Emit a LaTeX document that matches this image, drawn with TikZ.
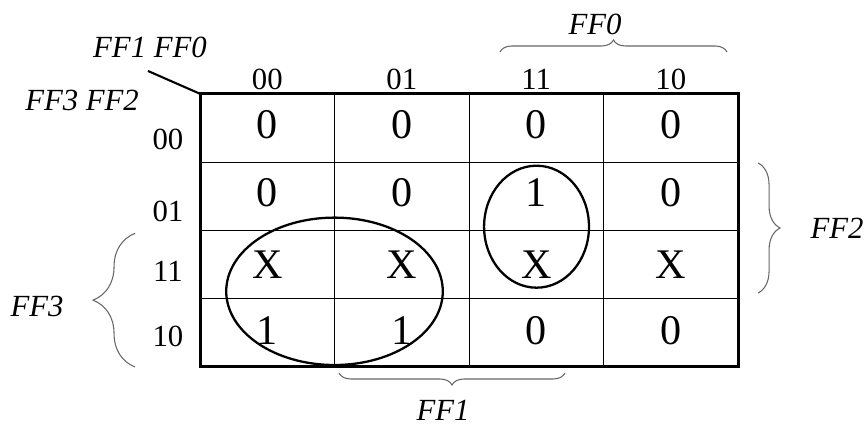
\documentclass[tikz,border=0pt]{standalone}
\usepackage{fontspec}
\setmainfont{Liberation Serif}
\usetikzlibrary{decorations.pathreplacing}
\begin{document}
\begin{tikzpicture}[x=2.69cm,y=1.366cm,
    val/.style={font=\fontsize{24}{28}\selectfont},
    hdr/.style={font=\fontsize{17.5}{20}\selectfont},
    var/.style={font=\fontsize{17.5}{20}\selectfont\itshape},
    bracebig/.style={decorate,decoration={brace,amplitude=#1},draw=black!60,line width=0.6pt},
    loop/.style={line width=1.3pt}]
        \useasboundingbox (-1.487,-0.922) rectangle (4.944,5.373);
        % inner lines
        \draw[line width=0.5pt] (1,0)--(1,4);
        \draw[line width=0.5pt] (2,0)--(2,4);
        \draw[line width=0.5pt] (3,0)--(3,4);
        \draw[line width=0.5pt] (0,1)--(4,1);
        \draw[line width=0.5pt] (0,2)--(4,2);
        \draw[line width=0.5pt] (0,3)--(4,3);
        \draw[line width=1.7pt] (0,0)--(4,0)--(4,4)--(0,4)--cycle;
        \coordinate (corner) at (0,4);
        \coordinate (slash) at (-0.387,4.334);
        \draw[line width=1.2pt] (slash)--(corner);
        \node[var] (cols) at (-0.372,4.685) {FF1 FF0};
        \node[var] (rows) at (-0.877,3.895) {FF3 FF2};
        % column and row headers
        \node[hdr] (h00) at (0.5,4.217) {00};
        \node[hdr] (h01) at (1.5,4.217) {01};
        \node[hdr] (h11) at (2.5,4.217) {11};
        \node[hdr] (h10) at (3.5,4.217) {10};
        \node[hdr] (r00) at (-0.238,3.334) {00};
        \node[hdr] (r01) at (-0.238,2.274) {01};
        \node[hdr] (r11) at (-0.238,1.395) {11};
        \node[hdr] (r10) at (-0.238,0.443) {10};
        % cell values
        \node[val] (v00) at (0.5,3.55) {0};
        \node[val] (v01) at (1.5,3.55) {0};
        \node[val] (v03) at (2.5,3.55) {0};
        \node[val] (v02) at (3.5,3.55) {0};
        \node[val] (v10) at (0.5,2.55) {0};
        \node[val] (v11) at (1.5,2.55) {0};
        \node[val] (v13) at (2.5,2.55) {1};
        \node[val] (v12) at (3.5,2.55) {0};
        \node[val] (v30) at (0.5,1.5) {X};
        \node[val] (v31) at (1.5,1.5) {X};
        \node[val] (v33) at (2.5,1.5) {X};
        \node[val] (v32) at (3.5,1.5) {X};
        \node[val] (v20) at (0.5,0.53) {1};
        \node[val] (v21) at (1.5,0.53) {1};
        \node[val] (v23) at (2.5,0.53) {0};
        \node[val] (v22) at (3.5,0.53) {0};
        % groups
        \draw[loop] (1.0,1.108) ellipse [x radius=0.805, y radius=1.079];
        \draw[loop] (2.502,2.054) ellipse [x radius=0.39, y radius=0.893];
        % braces
        \draw[bracebig=0.24cm] (2.23,4.612)--(3.918,4.612);
        \node[var] (ff0) at (2.937,5.022) {FF0};
        \draw[bracebig=0.44cm] (4.149,2.987)--(4.149,1.083);
        \node[var] (ff2) at (4.736,2.035) {FF2};
        \draw[bracebig=0.84cm] (-0.483,0)--(-0.483,1.957);
        \node[var] (ff3) at (-1.212,0.893) {FF3};
        \draw[bracebig=0.24cm] (2.714,-0.088)--(1.033,-0.088);
        \node[var] (ff1) at (1.807,-0.63) {FF1};
    \end{tikzpicture}
\end{document}
